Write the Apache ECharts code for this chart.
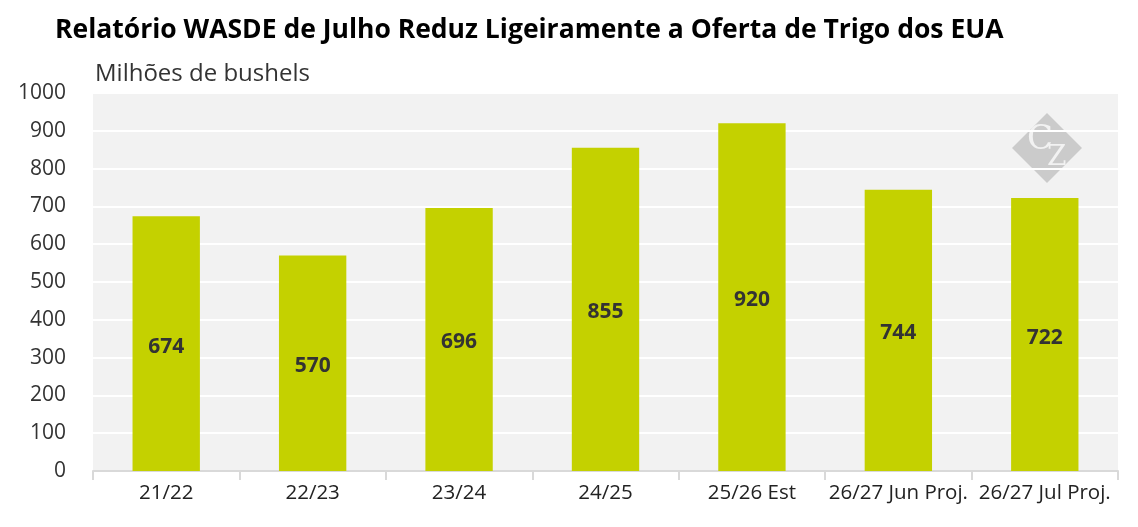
<!DOCTYPE html>
<html>
<head>
<meta charset="utf-8">
<script src="https://cdn.jsdelivr.net/npm/echarts@6/dist/echarts.min.js"></script>
<style>
  html, body { margin: 0; padding: 0; background: #fff; }
  #chart { width: 1138px; height: 527px; }
</style>
</head>
<body>
<div id="chart"></div>
<script>
// dados
const safras = ['21/22', '22/23', '23/24', '24/25', '25/26 Est', '26/27 Jun Proj.', '26/27 Jul Proj.'];
const estoques = [674, 570, 696, 855, 920, 744, 722];
const yTicks = [0, 100, 200, 300, 400, 500, 600, 700, 800, 900, 1000];

const chart = echarts.init(document.getElementById('chart'));
const font = '"Open Sans", "Noto Sans", sans-serif';

chart.setOption({
    animation: false,
    title: {
        text: 'Relatório WASDE de Julho Reduz Ligeiramente a Oferta de Trigo dos EUA',
        left: 50, top: 12,
        textStyle: { fontFamily: font, fontSize: 26.5, fontWeight: 'bold', color: '#000' }
    },
    grid: { left: 93, right: 20, top: 93, bottom: 56, show: true, backgroundColor: '#f2f2f2', borderWidth: 0 },
    xAxis: {
        type: 'category',
        data: safras,
        axisLine: { lineStyle: { color: '#d9d9d9', width: 2 } },
        axisTick: { show: true, interval: 0, length: 9, lineStyle: { color: '#d9d9d9', width: 2 } },
        axisLabel: { interval: 0, fontFamily: font, fontSize: 20.5, color: '#222', margin: 12 }
    },
    yAxis: {
        type: 'value',
        min: yTicks[0], max: yTicks[yTicks.length - 1], interval: 100,
        axisLine: { show: false },
        axisTick: { show: false },
        splitLine: { lineStyle: { color: '#ffffff', width: 2 } },
        axisLabel: { fontFamily: font, fontSize: 21, color: '#333', margin: 27, formatter: v => String(v) }
    },
    series: [{
        type: 'bar',
        data: estoques,
        barWidth: '46%',
        itemStyle: { color: '#c4d100' },
        label: {
            show: true, position: 'inside', offset: [0, 3],
            fontFamily: font, fontSize: 21, fontWeight: 'bold', color: '#333'
        }
    }],
    graphic: [
        {
            type: 'text', left: 95, top: 62,
            style: { text: 'Milhões de bushels', fontFamily: font, fontSize: 24, fill: '#333' }
        },
        {
            type: 'group', left: 1012, top: 113, silent: true,
            children: [
                { type: 'polygon', shape: { points: [[35, 0], [70, 35], [35, 70], [0, 35]] }, style: { fill: '#c6c6c6', opacity: 0.9 } },
                { type: 'text', x: 15, y: 10, style: { text: 'C', font: '34px "DejaVu Serif", serif', fill: '#f2f2f2' } },
                { type: 'text', x: 35, y: 31, style: { text: 'Z', font: '28px "DejaVu Serif", serif', fill: '#f2f2f2' } }
            ]
        }
    ]
});
</script>
</body>
</html>
